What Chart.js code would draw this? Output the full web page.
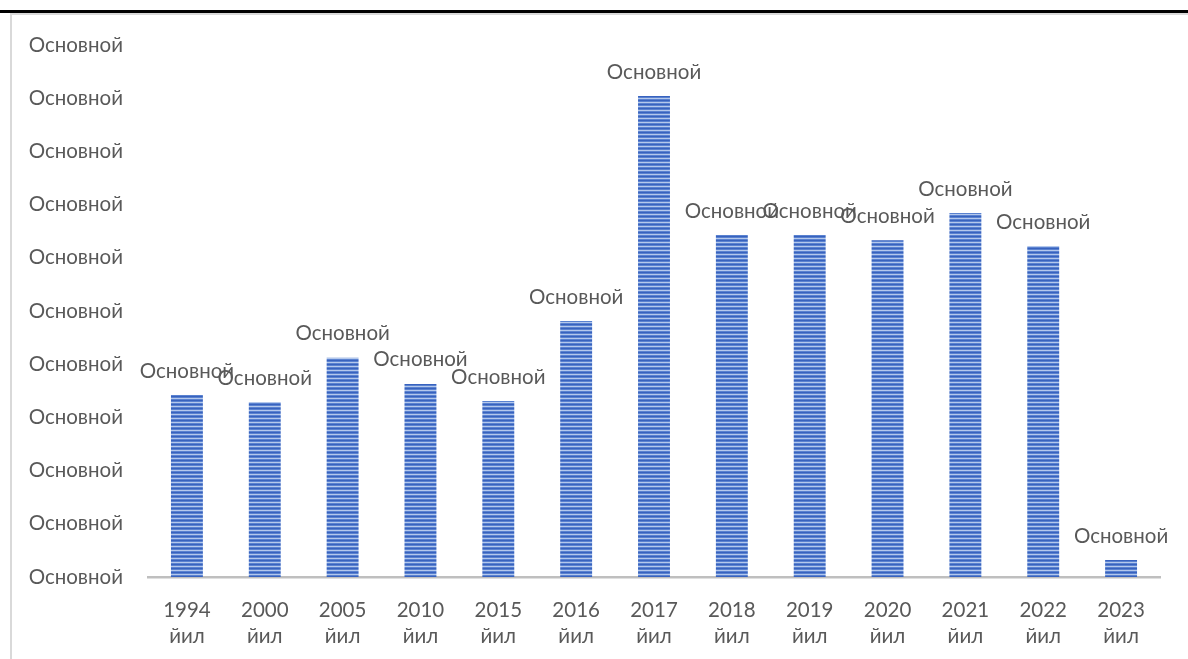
<!DOCTYPE html>
<html>
<head>
<meta charset="utf-8">
<script src="https://cdn.jsdelivr.net/npm/chart.js@4"></script>
<style>
  html, body { margin: 0; padding: 0; background: #fff; overflow: hidden; }
  #wrap { position: absolute; left: 0; top: 0; width: 1188px; height: 659px; }
  #topline { position: absolute; left: 0; top: 10px; width: 1188px; height: 3px; background: #000; }
  #box { position: absolute; left: 10px; top: 13px; width: 1200px; height: 700px; border-left: 2px solid #d9d9d9; border-top: 2px solid #d9d9d9; }
  canvas { position: absolute; left: 0; top: 0; }
</style>
</head>
<body>
<div id="wrap">
  <div id="topline"></div>
  <div id="box"></div>
  <canvas id="c" width="1188" height="659"></canvas>
</div>
<script>
const years = ['1994', '2000', '2005', '2010', '2015', '2016', '2017', '2018', '2019', '2020', '2021', '2022', '2023'];
const yearSuffix = 'йил';
const values = [3.42, 3.29, 4.12, 3.63, 3.31, 4.81, 9.04, 6.43, 6.43, 6.33, 6.84, 6.22, 0.32];
const valueLabel = 'Основной';
const yTickLabel = 'Основной';

const categories = years.map(y => [y, yearSuffix]);

function stripePattern() {
  const p = document.createElement('canvas');
  p.width = 4; p.height = 4;
  const g = p.getContext('2d');
  const rows = ['#3862be', '#5a82d0', '#b4c8ec', '#5a82d0'];
  rows.forEach((c, i) => { g.fillStyle = c; g.fillRect(0, i, 4, 1); });
  return document.getElementById('c').getContext('2d').createPattern(p, 'repeat');
}

const FONT = 'Lato, "Open Sans", sans-serif';
const TEXT = '#595959';
const FS = 20.5;

const barLabels = {
  id: 'barLabels',
  afterDatasetsDraw(chart) {
    const ctx = chart.ctx;
    const meta = chart.getDatasetMeta(0);
    ctx.save();
    ctx.font = FS + 'px ' + FONT;
    ctx.fillStyle = TEXT;
    ctx.textAlign = 'center';
    ctx.textBaseline = 'middle';
    meta.data.forEach((bar) => {
      ctx.fillText(valueLabel, bar.x, bar.y - 24);
    });
    ctx.restore();
  }
};

new Chart(document.getElementById('c'), {
  type: 'bar',
  data: {
    labels: categories,
    datasets: [{
      data: values,
      backgroundColor: stripePattern(),
      borderWidth: 0,
      categoryPercentage: 1,
      barPercentage: 0.41
    }]
  },
  plugins: [barLabels],
  options: {
    responsive: false,
    animation: false,
    devicePixelRatio: 1,
    layout: { padding: { top: 45, right: 28, bottom: 0, left: 0 } },
    plugins: { legend: { display: false }, tooltip: { enabled: false } },
    scales: {
      x: {
        grid: { display: false, drawTicks: false },
        border: { display: true, color: '#bfbfbf', width: 2.5 },
        ticks: {
          color: TEXT,
          font: { family: FONT, size: FS, lineHeight: 1.27 },
          padding: 20,
          maxRotation: 0,
          autoSkip: false
        },
        afterFit(s) { s.height = 82; }
      },
      y: {
        min: 0, max: 10,
        grid: { display: false, drawTicks: false },
        border: { display: false },
        ticks: {
          stepSize: 1,
          color: TEXT,
          font: { family: FONT, size: FS },
          padding: 25,
          callback: () => yTickLabel
        },
        afterFit(s) { s.width = 148; }
      }
    }
  }
});
</script>
</body>
</html>
